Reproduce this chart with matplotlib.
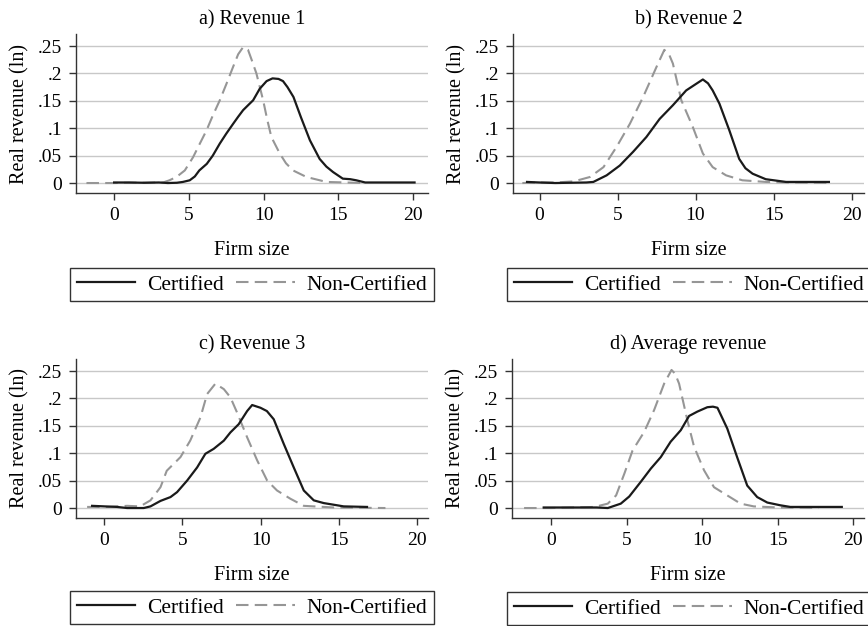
import matplotlib
matplotlib.use("Agg")
import matplotlib.pyplot as plt

plt.rcParams['font.family'] = ['Liberation Serif', 'DejaVu Serif']

titles = ["a) Revenue 1", "b) Revenue 2", "c) Revenue 3", "d) Average revenue"]
y_ticks = [0, 0.05, 0.1, 0.15, 0.2, 0.25]
y_tick_labels = ["0", ".05", ".1", ".15", ".2", ".25"]
x_ticks = [0, 5, 10, 15, 20]

# a) Revenue 1
x_cert_a = [0, 1, 2, 3, 3.6, 4.2, 4.6, 5.06, 5.4, 5.7, 6.2, 6.6, 7.07, 7.5, 7.96, 8.3, 8.63, 9.0, 9.3, 9.74, 10.2, 10.6, 11.0, 11.3, 11.6, 12.0, 12.5, 13.1, 13.75, 14.2, 14.65, 15.3, 15.8, 16.2, 16.8, 18, 20.1]
y_cert_a = [0.001, 0.001, 0.0005, 0.001, 0.0, 0.0005, 0.002, 0.005, 0.012, 0.023, 0.035, 0.05, 0.072, 0.09, 0.108, 0.121, 0.133, 0.143, 0.151, 0.172, 0.186, 0.191, 0.19, 0.186, 0.175, 0.157, 0.12, 0.078, 0.044, 0.03, 0.02, 0.008, 0.007, 0.005, 0.001, 0.001, 0.001]
x_non_a = [-1.85, 0, 1, 2, 3.28, 3.7, 4.17, 4.73, 5.28, 5.7, 6.18, 6.6, 7.07, 7.5, 7.96, 8.3, 8.63, 8.96, 9.2, 9.52, 9.97, 10.25, 10.52, 11.08, 11.5, 11.97, 12.87, 14.2, 15.5, 16.65]
y_non_a = [0, 0, 0.0005, 0.0005, 0.001, 0.005, 0.011, 0.023, 0.047, 0.07, 0.096, 0.123, 0.151, 0.18, 0.212, 0.235, 0.248, 0.243, 0.225, 0.2, 0.151, 0.115, 0.084, 0.054, 0.036, 0.023, 0.011, 0.002, 0.001, 0.0]

# b) Revenue 2
x_cert_b = [-0.8, 0, 1, 2, 3, 3.45, 4.3, 5.15, 6.0, 6.85, 7.7, 8.55, 9.4, 10.04, 10.47, 10.8, 11.1, 11.53, 12.17, 12.8, 13.2, 13.66, 14.5, 15.8, 17, 18.55]
y_cert_b = [0.002, 0.001, 0.0, 0.0005, 0.001, 0.002, 0.014, 0.032, 0.057, 0.084, 0.117, 0.142, 0.169, 0.181, 0.189, 0.182, 0.169, 0.145, 0.096, 0.044, 0.027, 0.017, 0.007, 0.002, 0.002, 0.002]
x_non_b = [-1.1, 0, 1, 2.2, 3.23, 4.1, 4.94, 5.79, 6.64, 7.5, 8.0, 8.3, 8.55, 9.09, 9.83, 10.47, 11.1, 11.96, 13.0, 14.5, 16, 18.77]
y_non_b = [0, 0.001, 0.001, 0.003, 0.011, 0.029, 0.066, 0.108, 0.157, 0.212, 0.243, 0.235, 0.218, 0.151, 0.102, 0.054, 0.029, 0.014, 0.005, 0.002, 0.001, 0.0]

# c) Revenue 3
x_cert_c = [-0.77, 0.83, 1.47, 2.53, 2.96, 3.6, 4.24, 4.66, 5.3, 5.94, 6.47, 7.0, 7.65, 8.07, 8.6, 9.14, 9.46, 9.99, 10.4, 10.84, 11.48, 12.12, 12.76, 13.4, 14.04, 14.68, 15.31, 16.8]
y_cert_c = [0.004, 0.002, 0.0, 0.0, 0.003, 0.013, 0.02, 0.029, 0.05, 0.074, 0.099, 0.108, 0.123, 0.138, 0.153, 0.177, 0.188, 0.183, 0.177, 0.162, 0.117, 0.074, 0.032, 0.014, 0.009, 0.006, 0.003, 0.002]
x_non_c = [-1.09, 0.2, 1.47, 2.3, 2.96, 3.6, 4.0, 4.88, 5.5, 6.15, 6.58, 7.11, 7.65, 8.07, 8.5, 9.14, 9.78, 10.42, 11.05, 11.9, 12.76, 14.68, 17.98]
y_non_c = [0.002, 0.002, 0.004, 0.003, 0.014, 0.038, 0.068, 0.093, 0.123, 0.165, 0.208, 0.227, 0.217, 0.202, 0.174, 0.129, 0.087, 0.05, 0.032, 0.017, 0.004, 0.001, 0.0]

# d) Average revenue
x_cert_d = [-0.5, 1, 2, 3, 3.74, 4.6, 5.16, 5.93, 6.59, 7.25, 7.9, 8.57, 9.12, 9.67, 10.33, 10.7, 11.0, 11.65, 12.3, 12.97, 13.63, 14.3, 15.16, 15.82, 17, 19.23]
y_cert_d = [0.001, 0.001, 0.001, 0.001, 0.0, 0.008, 0.021, 0.048, 0.072, 0.093, 0.121, 0.142, 0.168, 0.176, 0.184, 0.185, 0.183, 0.145, 0.093, 0.041, 0.02, 0.01, 0.005, 0.002, 0.002, 0.002]
x_non_d = [-1.8, 0, 1.5, 2.86, 3.74, 4.29, 4.84, 5.38, 6.15, 6.81, 7.47, 7.96, 8.2, 8.46, 9.01, 9.45, 10.11, 10.77, 11.65, 12.53, 13.4, 15, 17.7]
y_non_d = [0, 0, 0.001, 0.002, 0.008, 0.023, 0.063, 0.105, 0.139, 0.179, 0.227, 0.252, 0.245, 0.227, 0.16, 0.112, 0.069, 0.038, 0.023, 0.008, 0.003, 0.001, 0.0]

series = [
    (x_cert_a, y_cert_a, x_non_a, y_non_a),
    (x_cert_b, y_cert_b, x_non_b, y_non_b),
    (x_cert_c, y_cert_c, x_non_c, y_non_c),
    (x_cert_d, y_cert_d, x_non_d, y_non_d),
]
xlims = [(-2.55, 21.0), (-1.7, 20.8), (-1.8, 20.7), (-2.6, 20.7)]

W, H = 868, 626
fig = plt.figure(figsize=(W / 100, H / 100), dpi=100)

# axes boxes in pixels: left, top, right, bottom
boxes = [(76, 34, 428, 193), (513, 34, 864, 193), (76, 359, 428, 518), (512, 359, 864, 518)]
legend_centers = [(252, 284.5), (689, 284.5), (252, 607.5), (689, 608.5)]

for i in range(4):
    l, t, r, b = boxes[i]
    ax = fig.add_axes([l / W, 1 - b / H, (r - l) / W, (b - t) / H])
    xc, yc, xn, yn = series[i]
    ax.plot(xn, yn, color='#969696', lw=1.5, dashes=(6, 3), label='Non-Certified')
    ax.plot(xc, yc, color='#1a1a1a', lw=1.6, label='Certified')
    ax.set_xlim(*xlims[i])
    ax.set_ylim(-0.0182, 0.272)
    ax.set_yticks(y_ticks)
    ax.set_yticklabels(y_tick_labels)
    ax.set_xticks(x_ticks)
    ax.grid(axis='y', color='#c8c8c8', lw=1)
    ax.set_axisbelow(True)
    for s in ['top', 'right']:
        ax.spines[s].set_visible(False)
    for s in ['left', 'bottom']:
        ax.spines[s].set_color('#333333')
        ax.spines[s].set_linewidth(1)
    ax.tick_params(axis='both', length=5, width=1, color='#333333', labelsize=14, pad=5)
    ax.set_title(titles[i], fontsize=14.5, pad=7)
    ax.set_xlabel("Firm size", fontsize=14.5, labelpad=12)
    ax.set_ylabel("Real revenue (ln)", fontsize=14.5, labelpad=6)

    h, lab = ax.get_legend_handles_labels()
    cx, cy = legend_centers[i]
    leg = ax.legend([h[1], h[0]], [lab[1], lab[0]], ncol=2, loc='center',
                    bbox_to_anchor=(cx / W, 1 - cy / H), bbox_transform=fig.transFigure,
                    fontsize=15.5, frameon=True, fancybox=False, edgecolor='black',
                    handlelength=2.7, handletextpad=0.55, columnspacing=0.6,
                    borderpad=0.3)
    leg.get_frame().set_linewidth(1)

fig.savefig("out.png", dpi=100)
